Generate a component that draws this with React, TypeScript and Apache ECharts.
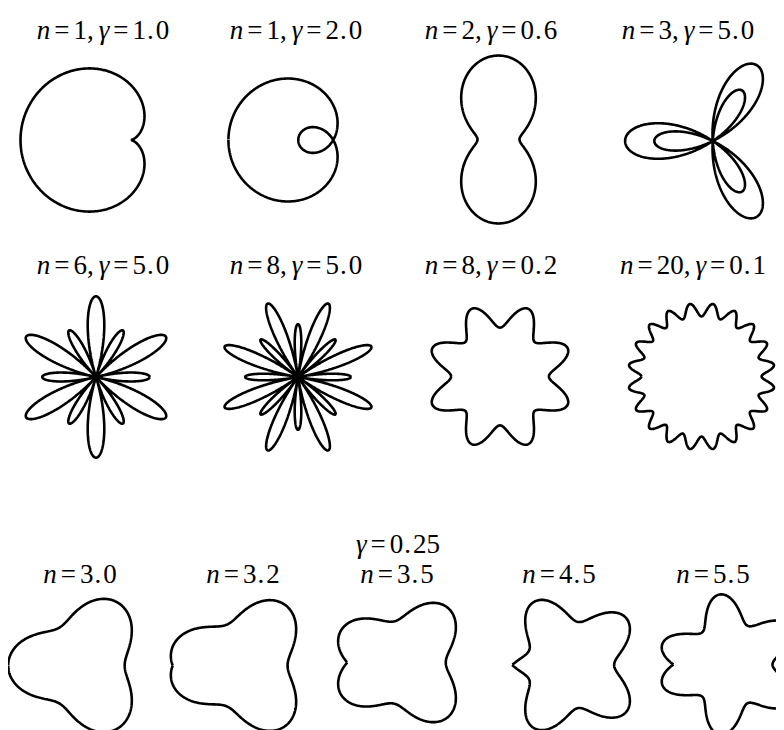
import React, { useEffect, useRef } from "react";
import * as echarts from "echarts";

// Polar curves r = 1 - γ·cos(nθ), θ ∈ [-π, π]
const TOP_N = [1, 1, 2, 3];
const TOP_GAMMA = [1.0, 2.0, 0.6, 5.0];
const MID_N = [6, 8, 8, 20];
const MID_GAMMA = [5.0, 5.0, 0.2, 0.1];
const BOTTOM_N = [3.0, 3.2, 3.5, 4.5, 5.5];
const BOTTOM_GAMMA = 0.25;

// Pixel boxes [left, top, width, height] that each curve is fitted into
const TOP_BOXES = [
  [12, 61, 125, 142],
  [220, 71, 110, 122],
  [453, 48, 75, 167],
  [615, 58, 142, 150],
];
const MID_BOXES = [
  [18, 288, 140, 162],
  [217, 295, 146, 148],
  [424, 300, 136, 137],
  [622, 295, 143, 147],
];
const BOTTOM_BOXES = [
  [1, 590, 122, 135],
  [163, 592, 125, 131],
  [328, 597, 122, 115],
  [504, 592, 118, 130],
  [655, 585, 127, 143],
];
const TOP_LABEL_X = [95, 288, 483, 680];
const MID_LABEL_X = [95, 288, 483, 685];
const BOTTOM_LABEL_X = [72, 235, 389, 551, 705];

function curve(n: number, g: number): number[][] {
  const steps = g > 1 ? 3000 : 1200;
  const pts: number[][] = [];
  for (let i = 0; i <= steps; i++) {
    const t = -Math.PI + (2 * Math.PI * i) / steps;
    const r = 1 - g * Math.cos(n * t);
    pts.push([r * Math.cos(t), r * Math.sin(t)]);
  }
  return pts;
}

const FONT = "Liberation Serif";
const SIZE = 27;
const base = { fontFamily: FONT, fontSize: SIZE, color: "#000" };
const rich = {
  i: { ...base, fontStyle: "italic" },
  t: { ...base },
  e: { ...base, padding: [0, 4, 0, 4] },
  c: { ...base, padding: [0, 5, 0, 0] },
  d: { ...base, padding: [0, 2, 0, 1] },
};

function numTokens(s: string): string {
  return s
    .split("")
    .map((ch) => (ch === "." ? "{d|.}" : `{t|${ch}}`))
    .join("");
}

function labelNG(n: string, g: string): string {
  return `{i|n}{e|=}${numTokens(n)}{c|,}{i|γ}{e|=}${numTokens(g)}`;
}

export default function App() {
  const ref = useRef<HTMLDivElement>(null);

  useEffect(() => {
    if (!ref.current) return;
    const chart = echarts.init(ref.current, undefined, { renderer: "svg" });

    const grids: any[] = [];
    const xAxes: any[] = [];
    const yAxes: any[] = [];
    const series: any[] = [];
    const graphics: any[] = [];

    const addPanel = (n: number, g: number, box: number[]) => {
      const pts = curve(n, g);
      let x0 = Infinity, x1 = -Infinity, y0 = Infinity, y1 = -Infinity;
      for (const [x, y] of pts) {
        x0 = Math.min(x0, x); x1 = Math.max(x1, x);
        y0 = Math.min(y0, y); y1 = Math.max(y1, y);
      }
      const [L, T, W, H] = box;
      const s = (W / (x1 - x0) + H / (y1 - y0)) / 2;
      const gw = s * (x1 - x0);
      const gh = s * (y1 - y0);
      const idx = grids.length;
      grids.push({ left: L + (W - gw) / 2, top: T + (H - gh) / 2, width: gw, height: gh });
      xAxes.push({ type: "value", gridIndex: idx, min: x0, max: x1, show: false });
      yAxes.push({ type: "value", gridIndex: idx, min: y0, max: y1, show: false });
      series.push({
        type: "line",
        xAxisIndex: idx,
        yAxisIndex: idx,
        data: pts,
        showSymbol: false,
        clip: false,
        silent: true,
        lineStyle: { color: "#000", width: 2.6 },
      });
    };

    const addLabel = (text: string, x: number, y: number) => {
      graphics.push({
        type: "text",
        x,
        y,
        style: {
          text,
          rich,
          fontFamily: FONT,
          fontSize: SIZE,
          fill: "#000",
          align: "center",
          verticalAlign: "middle",
        },
      });
    };

    TOP_N.forEach((n, i) => {
      addPanel(n, TOP_GAMMA[i], TOP_BOXES[i]);
      addLabel(labelNG(String(n), TOP_GAMMA[i].toFixed(1)), TOP_LABEL_X[i], 22);
    });
    MID_N.forEach((n, i) => {
      addPanel(n, MID_GAMMA[i], MID_BOXES[i]);
      addLabel(labelNG(String(n), MID_GAMMA[i].toFixed(1)), MID_LABEL_X[i], 257);
    });
    addLabel(`{i|γ}{e|=}${numTokens(BOTTOM_GAMMA.toFixed(2))}`, 390, 536);
    BOTTOM_N.forEach((n, i) => {
      addPanel(n, BOTTOM_GAMMA, BOTTOM_BOXES[i]);
      addLabel(`{i|n}{e|=}${numTokens(n.toFixed(1))}`, BOTTOM_LABEL_X[i], 566);
    });

    chart.setOption({
      animation: false,
      backgroundColor: "#fff",
      grid: grids,
      xAxis: xAxes,
      yAxis: yAxes,
      series,
      graphic: graphics,
    });

    return () => chart.dispose();
  }, []);

  return <div ref={ref} style={{ width: 784, height: 730 }} />;
}
